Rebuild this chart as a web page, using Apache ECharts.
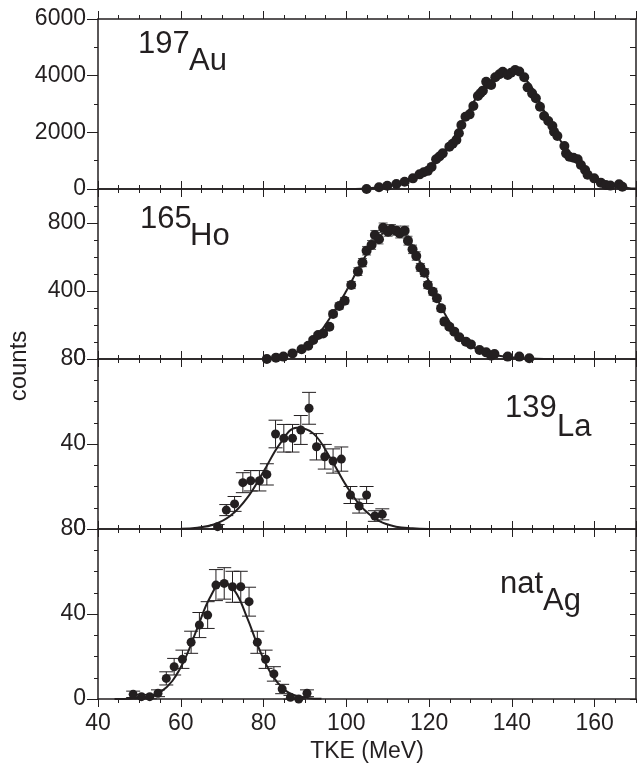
<!DOCTYPE html>
<html>
<head>
<meta charset="utf-8">
<script src="https://cdn.jsdelivr.net/npm/echarts@6/dist/echarts.min.js"></script>
<style>
  html, body { margin: 0; padding: 0; background: #fff; }
  #chart { width: 640px; height: 764px; }
</style>
</head>
<body>
<div id="chart"></div>
<script>
// panel values: [TKE, counts] or [TKE, counts, error]
var auPoints = [
  [104.9, 0], [107.9, 60], [109.9, 117], [112.1, 176], [114.1, 258], [116.1, 376],
  [117.7, 517], [118.7, 590], [119.7, 640], [120.6, 780], [121.7, 1047], [122.5, 1150],
  [123.3, 1258], [124.9, 1494], [125.7, 1600], [126.6, 1729], [127.2, 1965], [127.8, 2259],
  [128.8, 2553], [129.8, 2635], [130.7, 2929], [131.8, 3282], [132.4, 3380], [133, 3471],
  [133.8, 3788], [134.5, 3700], [135, 3671], [136, 3941], [137, 4050], [137.8, 4141],
  [139, 4024], [139.8, 4106], [140.8, 4200], [141.8, 4150], [143, 3941], [143.8, 3588],
  [144.9, 3376], [145.8, 3200], [146.8, 2906], [147.8, 2576], [148.8, 2400], [149.8, 2223],
  [150.2, 2023], [151, 1871], [152.7, 1518], [153.1, 1258], [153.9, 1141], [154.9, 1100],
  [155.9, 1047], [156.7, 847], [157.7, 670], [158.3, 500], [159.9, 376], [161.5, 224],
  [162.7, 141], [163.8, 120], [165.9, 165], [166.7, 82]
];
var auFit = [
  [100, 0], [104, 10], [108, 60], [112, 170], [116, 370], [120, 700], [124, 1350],
  [128, 2350], [132, 3350], [136, 3950], [140, 4150], [144, 3750], [148, 2700],
  [152, 1650], [156, 950], [160, 400], [164, 150], [168, 40], [170, 20]
];

var hoPoints = [
  [80.8, 0, 0], [83, 8, 3], [84.8, 14, 4], [87, 33, 6], [89.2, 57, 8], [90.8, 78, 9],
  [92, 112, 11], [93.2, 141, 12], [94.4, 150, 12], [95.9, 190, 14], [96.8, 265, 16],
  [98.3, 312, 18], [99.6, 343, 19], [101.2, 435, 21], [102.8, 514, 23], [103.9, 567, 24],
  [104.9, 637, 25], [106.1, 671, 26], [106.9, 729, 27], [107.9, 704, 27], [108.9, 772, 28],
  [110.1, 749, 27], [110.9, 763, 28], [112.1, 755, 27], [112.9, 739, 27], [114.1, 755, 27],
  [114.9, 696, 26], [116, 645, 25], [116.9, 606, 25], [117.9, 539, 23], [118.9, 508, 23],
  [119.7, 435, 21], [120.9, 396, 20], [121.9, 357, 19], [122.9, 298, 17], [123.7, 220, 15],
  [124.9, 190, 14], [126.1, 161, 13], [127.3, 128, 11], [128.9, 102, 10], [130.1, 86, 9],
  [132.2, 53, 7], [133.8, 39, 6], [135, 20, 4], [135.8, 29, 5], [139, 14, 4],
  [141.8, 14, 4], [144.2, 4, 2]
];
var hoFit = [
  [80, 0], [84, 12], [88, 40], [92, 110], [96, 240], [100, 400], [104, 580], [108, 720],
  [111, 765], [114, 740], [118, 560], [122, 350], [126, 180], [130, 80], [134, 35],
  [138, 15], [142, 6], [146, 2], [150, 0]
];

var laPoints = [
  [68.9, 1.1, 1], [71, 8.9, 2.6], [73, 11.8, 3.5], [75, 21.8, 4.7], [76.9, 22.7, 4.8],
  [79, 22.7, 4.8], [80.8, 25.7, 5], [82.9, 44.7, 6.5], [84.9, 42.7, 6.5], [87, 42.7, 6.5],
  [89, 46.6, 6.8], [91, 56.8, 7.5], [92.8, 38.7, 6.2], [94.8, 34, 5.8], [96.8, 32, 5.7],
  [98.8, 32.9, 5.7], [101, 16, 4], [103.1, 10.8, 3.3], [104.9, 16, 4], [106.9, 6.1, 2.5],
  [108.7, 6.9, 2.6]
];
var laFit = [
  [60, 0.1], [64, 0.6], [68, 2.1], [72, 6.2], [76, 14.5], [80, 27], [84, 40.2], [88, 47.7],
  [92, 45], [96, 33.9], [100, 20.4], [104, 9.7], [108, 3.7], [112, 1.1], [116, 0.3], [120, 0]
];

var agPoints = [
  [48.5, 2.2, 1.5], [50.5, 1.1, 1], [52.5, 1.1, 1], [54.5, 2.7, 1.6], [56.5, 9.7, 3.1],
  [58.4, 15.2, 3.9], [60.4, 18.7, 4.3], [62.5, 26.7, 5.2], [64.5, 34.8, 5.9], [66.5, 39.5, 6.3],
  [68.5, 53.6, 7.3], [70.5, 54.4, 7.4], [72.5, 52.8, 7.3], [74.5, 52.8, 7.3], [76.5, 45.8, 6.8],
  [78.5, 26.7, 5.2], [80.5, 18.7, 4.3], [82.5, 11.8, 3.4], [84.5, 4.7, 2.2], [86.5, 0.8, 0.9],
  [88.5, 0, 0], [90.5, 2.7, 1.6]
];
var agFit = [
  [44, 0], [48, 0.1], [52, 0.9], [55, 3.1], [58, 8.6], [61, 18.8], [64, 33.4], [67, 47.5],
  [70, 54.8], [73, 51], [76, 38.4], [79, 23.3], [82, 11.4], [85, 4.5], [88, 1.4], [91, 0.4],
  [94, 0.1]
];

var panelNames = [['197', 'Au'], ['165', 'Ho'], ['139', 'La'], ['nat', 'Ag']];
var yMax = [6000, 1000, 80, 80];
var yMajor = [2000, 400, 40, 40];
var yMinor = [1000, 100, 10, 10];
var xTickMajor = 20, xTickMinor = 5;

var ink = '#231f20';
var font = 'Liberation Sans, Arial, sans-serif';
var gridTop = 19, gridH = 170, gridLeft = 98, gridRight = 4;

var chart = echarts.init(document.getElementById('chart'));

var grids = [], xAxes = [], yAxes = [], series = [];
var pointSets = [auPoints, hoPoints, laPoints, agPoints];
var fitSets = [auFit, hoFit, laFit, agFit];
var capHalf = [0, 4.5, 7, 7];
var barColor = [ink, '#555', ink, ink];
var dotSize = [10, 10, 9, 9];

function errorBars(half, color) {
  return function (params, api) {
    var x = api.value(0), y = api.value(1), e = api.value(2);
    var hi = api.coord([x, y + e]);
    var lo = api.coord([x, y - e]);
    var st = { stroke: color, lineWidth: 1 };
    return {
      type: 'group',
      children: [
        { type: 'line', shape: { x1: hi[0], y1: hi[1], x2: lo[0], y2: lo[1] }, style: st },
        { type: 'line', shape: { x1: hi[0] - half, y1: hi[1], x2: hi[0] + half, y2: hi[1] }, style: st },
        { type: 'line', shape: { x1: lo[0] - half, y1: lo[1], x2: lo[0] + half, y2: lo[1] }, style: st }
      ]
    };
  };
}

for (var g = 0; g < 4; g++) {
  grids.push({
    left: gridLeft, right: gridRight, top: gridTop + g * gridH, height: gridH,
    outerBoundsMode: 'none', containLabel: false
  });
  var last = g === 3;
  // bottom + top x axes (major / minor ticks)
  xAxes.push({
    gridIndex: g, type: 'value', position: 'bottom', min: 40, max: 170, interval: xTickMajor,
    axisLine: { show: true, onZero: false, lineStyle: { color: ink, width: 1.5 } },
    axisTick: { show: true, length: 8, lineStyle: { color: ink, width: 1 } },
    axisLabel: { show: last, margin: 13, color: ink, fontSize: 23, fontFamily: font, showMaxLabel: false },
    splitLine: { show: false },
    name: last ? 'TKE (MeV)' : '', nameLocation: 'middle', nameGap: 41,
    nameTextStyle: { color: ink, fontSize: 23, fontFamily: font }
  });
  xAxes.push({
    gridIndex: g, type: 'value', position: 'bottom', min: 40, max: 170, interval: xTickMinor,
    axisLine: { show: false, onZero: false },
    axisTick: { show: true, length: 4, lineStyle: { color: ink, width: 1 } },
    axisLabel: { show: false }, splitLine: { show: false }
  });
  xAxes.push({
    gridIndex: g, type: 'value', position: 'top', min: 40, max: 170, interval: xTickMajor,
    axisLine: { show: true, onZero: false, lineStyle: { color: ink, width: 1.5 } },
    axisTick: { show: true, length: 8, lineStyle: { color: ink, width: 1 } },
    axisLabel: { show: false }, splitLine: { show: false }
  });
  xAxes.push({
    gridIndex: g, type: 'value', position: 'top', min: 40, max: 170, interval: xTickMinor,
    axisLine: { show: false, onZero: false },
    axisTick: { show: true, length: 4, lineStyle: { color: ink, width: 1 } },
    axisLabel: { show: false }, splitLine: { show: false }
  });
  // left labelled axis, left minor ticks, right frame
  (function (maj) {
    yAxes.push({
      gridIndex: g, type: 'value', position: 'left', min: 0, max: yMax[g], interval: maj,
      axisLine: { show: true, onZero: false, lineStyle: { color: ink, width: 1.5 } },
      axisTick: { show: true, length: 11, lineStyle: { color: ink, width: 1 } },
      axisLabel: {
        margin: 12, color: ink, fontSize: 23, fontFamily: font,
        formatter: function (v) { return v % maj === 0 ? String(v) : ''; }
      },
      splitLine: { show: false }
    });
  })(yMajor[g]);
  yAxes.push({
    gridIndex: g, type: 'value', position: 'left', min: 0, max: yMax[g], interval: yMinor[g],
    axisLine: { show: false, onZero: false },
    axisTick: { show: true, length: 4, lineStyle: { color: ink, width: 1 } },
    axisLabel: { show: false }, splitLine: { show: false }
  });
  yAxes.push({
    gridIndex: g, type: 'value', position: 'right', min: 0, max: yMax[g], interval: yMinor[g],
    axisLine: { show: true, onZero: false, lineStyle: { color: ink, width: 1.5 } },
    axisTick: { show: true, inside: true, length: 6, lineStyle: { color: ink, width: 1 } },
    axisLabel: { show: false }, splitLine: { show: false }
  });

  series.push({
    type: 'line', xAxisIndex: g * 4, yAxisIndex: g * 3, data: fitSets[g],
    smooth: 0.4, showSymbol: false, silent: true,
    lineStyle: { color: ink, width: 2 }, z: 2
  });
  if (g > 0) {
    series.push({
      type: 'custom', xAxisIndex: g * 4, yAxisIndex: g * 3, data: pointSets[g],
      renderItem: errorBars(capHalf[g], barColor[g]), encode: { x: 0, y: 1 }, z: 3, silent: true
    });
  }
  series.push({
    type: 'scatter', xAxisIndex: g * 4, yAxisIndex: g * 3, data: pointSets[g],
    symbol: 'circle', symbolSize: dotSize[g], itemStyle: { color: ink, opacity: 1 }, z: 4
  });
}

var labelPos = [
  { nx: 138, ny: 44.5, ex: 189, ey: 61.5 },
  { nx: 140, ny: 219.5, ex: 190, ey: 237 },
  { nx: 505, ny: 409, ex: 557, ey: 428 },
  { nx: 500, ny: 585, ex: 543, ey: 602 }
];
var graphics = [];
panelNames.forEach(function (p, i) {
  var L = labelPos[i];
  graphics.push({ type: 'text', left: L.nx, top: L.ny - 16, style: { text: p[0], fill: ink, fontSize: 31, fontFamily: font } });
  graphics.push({ type: 'text', left: L.ex, top: L.ey - 16, style: { text: p[1], fill: ink, fontSize: 31, fontFamily: font } });
});
graphics.push({
  type: 'text', x: 19, y: 366, rotation: Math.PI / 2,
  style: { text: 'counts', fill: ink, fontSize: 24, fontFamily: font, align: 'center', verticalAlign: 'middle' }
});

chart.setOption({
  animation: false,
  backgroundColor: '#fff',
  grid: grids,
  xAxis: xAxes,
  yAxis: yAxes,
  series: series,
  graphic: graphics
});
</script>
</body>
</html>
